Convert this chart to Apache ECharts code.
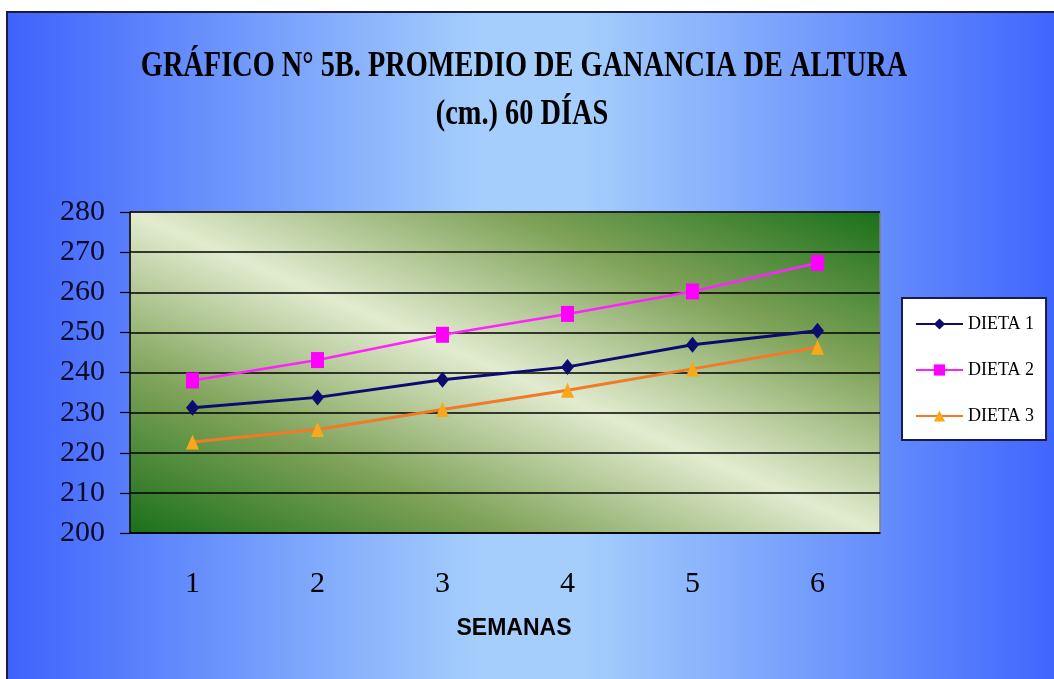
<!DOCTYPE html>
<html>
<head>
<meta charset="utf-8">
<script src="https://cdn.jsdelivr.net/npm/echarts@6.0.0/dist/echarts.min.js"></script>
<style>
  html, body { margin: 0; padding: 0; background: #fff; overflow: hidden; }
  #frame { position: absolute; left: 6px; top: 11px; border-left: 2px solid #1b1b40; border-top: 2px solid #1b1b40; }
  #chart { width: 1046px; height: 666px; }
</style>
</head>
<body>
<div id="frame"><div id="chart"></div></div>
<script>
const semanas = ['1', '2', '3', '4', '5', '6'];
const dieta1 = [231.2, 233.8, 238.2, 241.4, 246.9, 250.4];
const dieta2 = [238.0, 243.1, 249.4, 254.6, 260.2, 267.3];
const dieta3 = [222.7, 225.8, 230.8, 235.6, 240.9, 246.3];
const titleLines = ['GRÁFICO N° 5B. PROMEDIO DE GANANCIA DE ALTURA', '(cm.) 60 DÍAS'];

const chart = echarts.init(document.getElementById('chart'));

const serif = '"Liberation Serif", "Times New Roman", serif';

// plot area: light band along the top-left -> bottom-right diagonal, dark green corners
const plot = { left: 122, top: 199, width: 750, height: 321 };
const cx = plot.left + plot.width / 2, cy = plot.top + plot.height / 2;
const len = Math.hypot(plot.width, plot.height);
const dx = plot.height / len, dy = -plot.width / len;
const reach = Math.abs(-plot.width / 2 * dx + plot.height / 2 * dy);

chart.setOption({
  backgroundColor: new echarts.graphic.LinearGradient(0, 0, 1, 0, [
    { offset: 0, color: '#3f62fc' },
    { offset: 0.22, color: '#6f98fc' },
    { offset: 0.45, color: '#a5cefc' },
    { offset: 0.55, color: '#a5cefc' },
    { offset: 0.8, color: '#6d95fc' },
    { offset: 1, color: '#3f66fd' }
  ]),
  animation: false,
  graphic: [
    {
      type: 'text', x: 516, y: 53.5, scaleX: 0.81,
      style: { text: titleLines[0], font: 'bold 35px ' + serif, fill: '#000', textAlign: 'center', textVerticalAlign: 'middle' }
    },
    {
      type: 'text', x: 514, y: 102, scaleX: 0.81,
      style: { text: titleLines[1], font: 'bold 35px ' + serif, fill: '#000', textAlign: 'center', textVerticalAlign: 'middle' }
    }
  ],
  grid: {
    left: plot.left, top: plot.top, width: plot.width, height: plot.height,
    show: true,
    borderColor: '#808080', borderWidth: 1.5,
    backgroundColor: new echarts.graphic.LinearGradient(
      cx - reach * dx, cy - reach * dy, cx + reach * dx, cy + reach * dy, [
        { offset: 0, color: '#1a701a' },
        { offset: 0.25, color: '#7ea258' },
        { offset: 0.5, color: '#e2ebcf' },
        { offset: 0.75, color: '#7ea258' },
        { offset: 1, color: '#1a701a' }
      ], true)
  },
  legend: {
    orient: 'vertical',
    left: 894, top: 285,
    backgroundColor: '#fff',
    borderColor: '#1a1a50', borderWidth: 2,
    padding: [17, 12, 15, 13],
    itemWidth: 47, itemHeight: 14, itemGap: 28,
    textStyle: { fontFamily: serif, fontSize: 18, color: '#000' },
    data: ['DIETA 1', 'DIETA 2', 'DIETA 3']
  },
  xAxis: {
    type: 'category',
    data: semanas,
    name: 'SEMANAS',
    nameLocation: 'middle',
    nameGap: 84,
    nameTextStyle: { fontFamily: '"Liberation Sans", Arial, sans-serif', fontWeight: 'bold', fontSize: 23, color: '#000', padding: [0, 0, 0, 18] },
    axisLine: { lineStyle: { color: '#000', width: 1.5 } },
    axisTick: { length: 12, lineStyle: { color: '#000', width: 1.2 } },
    axisLabel: { fontFamily: serif, fontSize: 30, color: '#000', margin: 36 }
  },
  yAxis: {
    type: 'value',
    min: 200, max: 280, interval: 10,
    axisLine: { show: true, lineStyle: { color: '#000', width: 1.5 } },
    axisTick: { show: true, length: 10, lineStyle: { color: '#000', width: 1.2 } },
    axisLabel: { fontFamily: serif, fontSize: 30, color: '#0a0a28', margin: 25 },
    splitLine: { lineStyle: { color: '#000', width: 1.5 } }
  },
  series: [
    {
      name: 'DIETA 1', type: 'line', data: dieta1,
      symbol: 'diamond', symbolSize: [13, 16],
      lineStyle: { color: '#0b0b70', width: 3 },
      itemStyle: { color: '#0b0b70' }
    },
    {
      name: 'DIETA 2', type: 'line', data: dieta2,
      symbol: 'rect', symbolSize: [13, 16],
      lineStyle: { color: '#ff22ff', width: 2.5 },
      itemStyle: { color: '#ff00ff' }
    },
    {
      name: 'DIETA 3', type: 'line', data: dieta3,
      symbol: 'triangle', symbolSize: [13, 15],
      lineStyle: { color: '#f07a28', width: 3 },
      itemStyle: { color: '#f8a818' }
    }
  ]
});
</script>
</body>
</html>
